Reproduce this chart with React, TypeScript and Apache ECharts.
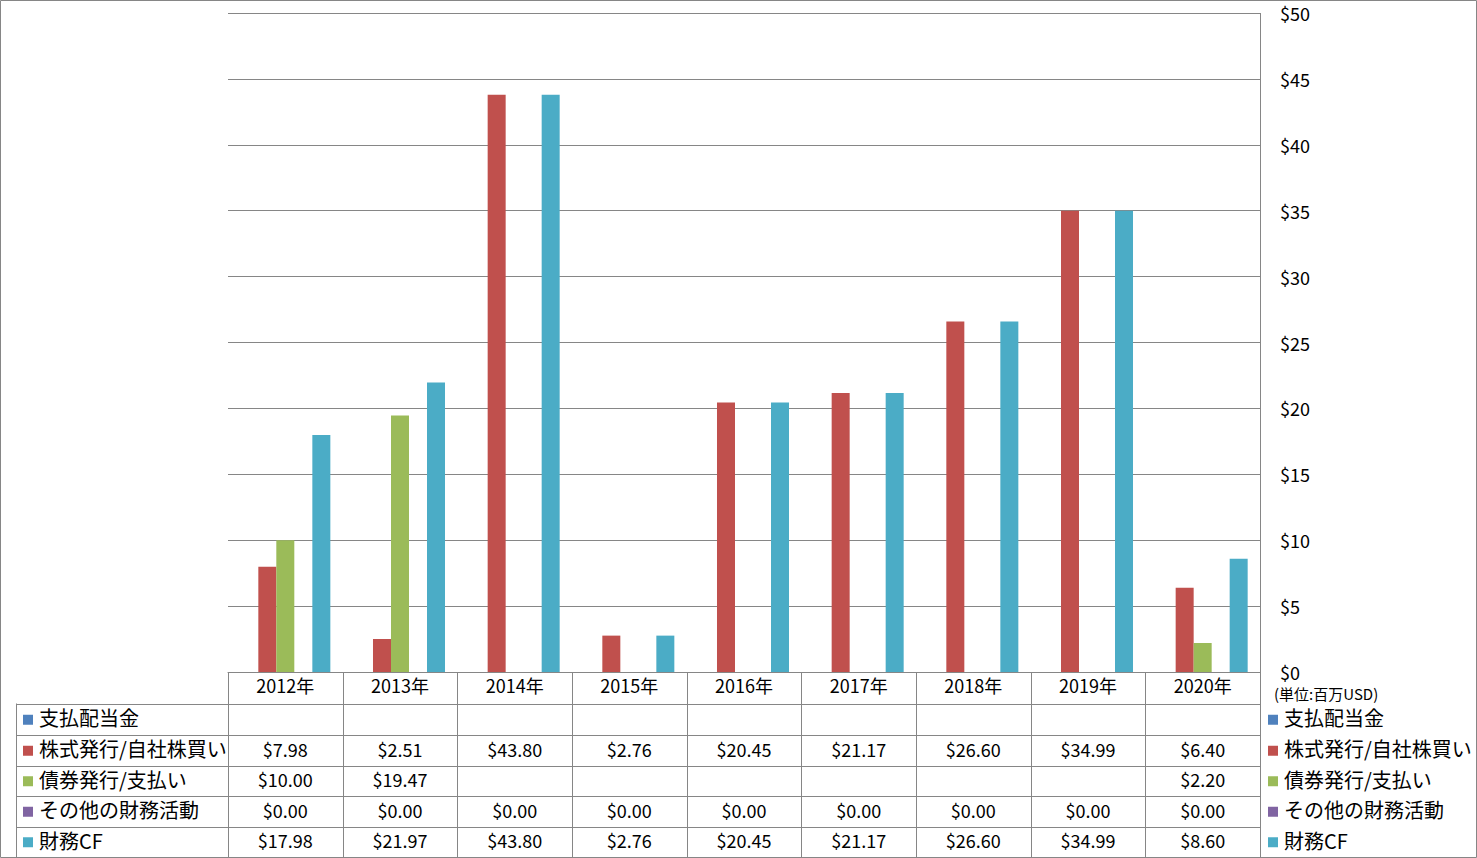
import React, { useEffect, useRef } from "react";
import * as echarts from "echarts";

const categories = ["2012年", "2013年", "2014年", "2015年", "2016年", "2017年", "2018年", "2019年", "2020年"];
const seriesNames = ["支払配当金", "株式発行/自社株買い", "債券発行/支払い", "その他の財務活動", "財務CF"];
const dividends: (number | null)[] = [null, null, null, null, null, null, null, null, null];
const stockIssue: (number | null)[] = [7.98, 2.51, 43.8, 2.76, 20.45, 21.17, 26.6, 34.99, 6.4];
const bondIssue: (number | null)[] = [10.0, 19.47, null, null, null, null, null, null, 2.2];
const otherFin: (number | null)[] = [0, 0, 0, 0, 0, 0, 0, 0, 0];
const financeCF: (number | null)[] = [17.98, 21.97, 43.8, 2.76, 20.45, 21.17, 26.6, 34.99, 8.6];
const seriesData = [dividends, stockIssue, bondIssue, otherFin, financeCF];
const colors = ["#4F81BD", "#C0504D", "#9BBB59", "#8064A2", "#4BACC6"];
const unitLabel = "(単位:百万USD)";

const FONT = "'Noto Sans CJK JP', 'Noto Sans', sans-serif";
const GRAY = "#868686";

export default function App() {
  const ref = useRef<HTMLDivElement>(null);
  useEffect(() => {
    document.body.style.margin = "0";
    if (!ref.current) return;
    const chart = echarts.init(ref.current, null, { renderer: "svg" });
    const W = 1477, H = 858;
    const gl = 228, gr = 1260, gt = 13, gb = 672;
    const cw = (gr - gl) / categories.length;
    const rows = [672, 703.5, 735, 765.5, 796, 826.5, 857];
    const tableLeft = 16;

    const graphics: any[] = [];
    graphics.push({ type: "rect", shape: { x: 0.5, y: 0.5, width: W - 1, height: H - 1 }, style: { fill: "none", stroke: GRAY, lineWidth: 1 }, silent: true });
    for (let i = 0; i < categories.length; i++) {
      const x = Math.round(gl + i * cw) + 0.5;
      graphics.push({ type: "line", shape: { x1: x, y1: gb, x2: x, y2: H }, style: { stroke: GRAY, lineWidth: 1 }, silent: true });
    }
    graphics.push({ type: "line", shape: { x1: gr + 0.5, y1: gt, x2: gr + 0.5, y2: H }, style: { stroke: GRAY, lineWidth: 1 }, silent: true });
    graphics.push({ type: "line", shape: { x1: tableLeft + 0.5, y1: rows[1], x2: tableLeft + 0.5, y2: H }, style: { stroke: GRAY, lineWidth: 1 }, silent: true });
    for (let r = 1; r < rows.length - 1; r++) {
      const y = Math.round(rows[r]) + 0.5;
      graphics.push({ type: "line", shape: { x1: tableLeft, y1: y, x2: gr, y2: y }, style: { stroke: GRAY, lineWidth: 1 }, silent: true });
    }
    seriesNames.forEach((name, s) => {
      const cy = (rows[s + 1] + rows[s + 2]) / 2 + 0.5;
      const ty = cy - 2;
      graphics.push({ type: "rect", shape: { x: 23, y: cy - 5, width: 10, height: 10 }, style: { fill: colors[s] }, silent: true });
      graphics.push({ type: "text", x: 39, y: ty, style: { text: name, font: `20px ${FONT}`, fill: "#000", verticalAlign: "middle", align: "left" }, silent: true });
      graphics.push({ type: "rect", shape: { x: 1268, y: cy - 5, width: 10, height: 10 }, style: { fill: colors[s] }, silent: true });
      graphics.push({ type: "text", x: 1284, y: ty, style: { text: name, font: `20px ${FONT}`, fill: "#000", verticalAlign: "middle", align: "left" }, silent: true });
      seriesData[s].forEach((v, i) => {
        if (v === null) return;
        graphics.push({ type: "text", x: gl + (i + 0.5) * cw, y: ty, style: { text: "$" + v.toFixed(2), font: `18px ${FONT}`, fill: "#000", verticalAlign: "middle", align: "center" }, silent: true });
      });
    });
    graphics.push({ type: "text", x: 1274, y: 693, style: { text: unitLabel, font: `15px ${FONT}`, fill: "#000", verticalAlign: "middle", align: "left", lineHeight: 15 }, silent: true });

    chart.setOption({
      animation: false,
      color: colors,
      textStyle: { fontFamily: FONT },
      grid: { left: gl, right: W - gr, top: gt, bottom: H - gb, containLabel: false },
      xAxis: {
        type: "category",
        data: categories,
        axisLine: { show: true, lineStyle: { color: GRAY, width: 1 } },
        axisTick: { show: false },
        axisLabel: { fontSize: 18, color: "#000", margin: 4, fontFamily: FONT },
        splitLine: { show: false },
      },
      yAxis: {
        type: "value",
        position: "right",
        min: 0,
        max: 50,
        interval: 5,
        axisLine: { show: false },
        axisTick: { show: false },
        axisLabel: { fontSize: 18, color: "#000", margin: 20, lineHeight: 16, formatter: (v: number) => "$" + v, fontFamily: FONT },
        splitLine: { show: true, lineStyle: { color: GRAY, width: 1 } },
      },
      series: seriesNames.map((name, s) => ({
        name,
        type: "bar",
        data: seriesData[s],
        barGap: "0%",
        barCategoryGap: "21.5%",
        itemStyle: { color: colors[s] },
      })),
      graphic: graphics,
    });
    return () => chart.dispose();
  }, []);
  return <div ref={ref} style={{ width: 1477, height: 858 }} />;
}
